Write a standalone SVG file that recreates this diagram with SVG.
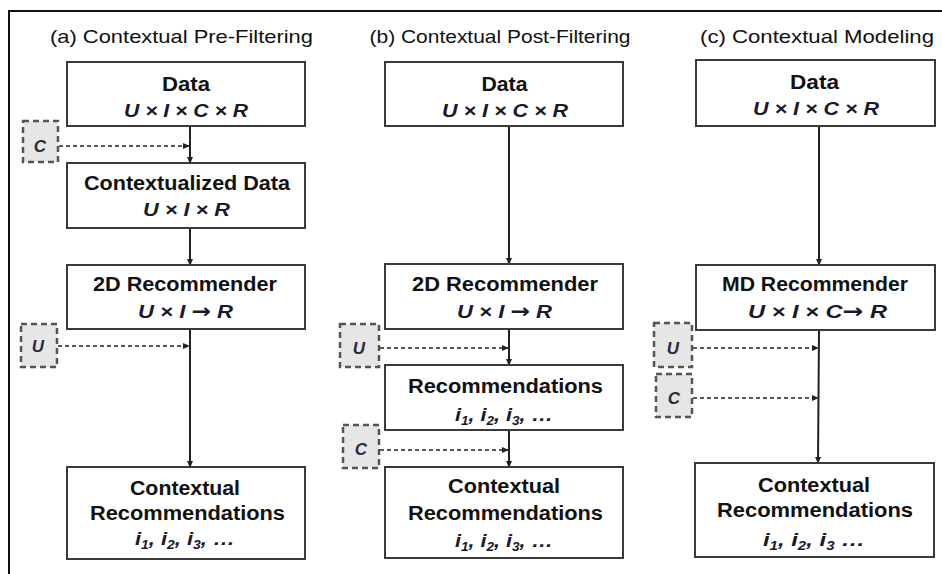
<svg xmlns="http://www.w3.org/2000/svg" width="942" height="574" viewBox="0 0 942 574">
  <style>
    .title { font-family: "Liberation Sans", Arial, sans-serif; font-size: 19px; fill: #111; text-anchor: middle; }
    .lbl { font-family: "Liberation Sans", Arial, sans-serif; font-size: 20px; font-weight: bold; fill: #111; text-anchor: middle; }
    .math { font-family: "Liberation Sans", Arial, sans-serif; font-size: 19px; font-style: italic; font-weight: bold; fill: #1a1a2e; text-anchor: middle; }
    .arrowglyph { font-family: "DejaVu Sans", sans-serif; font-style: normal; font-weight: bold; font-size: 20px; }
    .sub { font-size: 12px; }
    .box { fill: #fff; stroke: #3a3a3a; stroke-width: 2; }
    .ctx { fill: #e6e6e6; stroke: #555; stroke-width: 2.5; stroke-dasharray: 6 4; }
    .ctxt { font-family: "Liberation Sans", Arial, sans-serif; font-size: 17px; font-style: italic; font-weight: bold; fill: #2a2a40; text-anchor: middle; }
    .flow { stroke: #222; stroke-width: 2; fill: none; marker-end: url(#arr); }
    .dash { stroke: #222; stroke-width: 1.6; fill: none; stroke-dasharray: 4 3; marker-end: url(#arr); }
  </style>
  <defs>
    <marker id="arr" viewBox="0 0 8 8" refX="7" refY="4" markerWidth="7" markerHeight="7" markerUnits="userSpaceOnUse" orient="auto">
      <path d="M0,0.5 L8,4 L0,7.5 Z" fill="#222"/>
    </marker>
  </defs>

  <rect width="942" height="574" fill="#fff"/>
  <!-- frame (top and left edges) -->
  <path d="M9,574 V11 H942" fill="none" stroke="#111" stroke-width="2"/>

  <!-- column headings -->
  <text class="title" x="181.5" y="43" textLength="263" lengthAdjust="spacingAndGlyphs">(a) Contextual Pre-Filtering</text>
  <text class="title" x="500" y="43" textLength="261" lengthAdjust="spacingAndGlyphs">(b) Contextual Post-Filtering</text>
  <text class="title" x="817" y="43" textLength="234" lengthAdjust="spacingAndGlyphs">(c) Contextual Modeling</text>

  <!-- connectors -->
  <g id="connectors">
    <line class="flow" x1="190" y1="126" x2="190" y2="163"/>
    <line class="flow" x1="190" y1="228" x2="190" y2="265"/>
    <line class="flow" x1="190" y1="329" x2="190" y2="467"/>
    <line class="dash" x1="59" y1="146" x2="189" y2="146"/>
    <line class="dash" x1="58" y1="346" x2="189" y2="346"/>

    <line class="flow" x1="509" y1="126" x2="509" y2="264"/>
    <line class="flow" x1="509" y1="329" x2="509" y2="365"/>
    <line class="flow" x1="509" y1="430" x2="509" y2="467"/>
    <line class="dash" x1="380" y1="348" x2="508" y2="348"/>
    <line class="dash" x1="380" y1="450" x2="508" y2="450"/>

    <line class="flow" x1="819" y1="126" x2="819" y2="265"/>
    <line class="flow" x1="819" y1="330" x2="818" y2="463"/>
    <line class="dash" x1="693" y1="348" x2="818" y2="348"/>
    <line class="dash" x1="693" y1="398" x2="818" y2="398"/>
  </g>

  <!-- (a) pre-filtering -->
  <g id="a-data">
    <rect class="box" x="67" y="62" width="238" height="64"/>
    <text class="lbl" x="186" y="91" textLength="48" lengthAdjust="spacingAndGlyphs">Data</text>
    <text class="math" x="186" y="117" textLength="124" lengthAdjust="spacingAndGlyphs">U × I × C × R</text>
  </g>
  <g id="a-ctx">
    <rect class="ctx" x="23" y="121" width="35" height="41"/>
    <text class="ctxt" x="40" y="152">C</text>
  </g>
  <g id="a-ctxdata">
    <rect class="box" x="67" y="163" width="238" height="65"/>
    <text class="lbl" x="187" y="190" textLength="206" lengthAdjust="spacingAndGlyphs">Contextualized Data</text>
    <text class="math" x="186.5" y="216" textLength="87" lengthAdjust="spacingAndGlyphs">U × I × R</text>
  </g>
  <g id="a-rec2d">
    <rect class="box" x="67" y="265" width="238" height="64"/>
    <text class="lbl" x="185" y="291" textLength="184" lengthAdjust="spacingAndGlyphs">2D Recommender</text>
    <text class="math" x="185.5" y="318" textLength="95" lengthAdjust="spacingAndGlyphs">U × I <tspan class="arrowglyph">→</tspan> R</text>
  </g>
  <g id="a-user">
    <rect class="ctx" x="21" y="324" width="36" height="43"/>
    <text class="ctxt" x="38" y="352">U</text>
  </g>
  <g id="a-result">
    <rect class="box" x="67" y="467" width="238" height="92"/>
    <text class="lbl" x="185" y="495" textLength="110" lengthAdjust="spacingAndGlyphs">Contextual</text>
    <text class="lbl" x="187.5" y="520" textLength="195" lengthAdjust="spacingAndGlyphs">Recommendations</text>
    <text class="math" x="185" y="545" textLength="100" lengthAdjust="spacingAndGlyphs">i<tspan class="sub" dy="4">1</tspan><tspan dy="-4">, i</tspan><tspan class="sub" dy="4">2</tspan><tspan dy="-4">, i</tspan><tspan class="sub" dy="4">3</tspan><tspan dy="-4">, …</tspan></text>
  </g>

  <!-- (b) post-filtering -->
  <g id="b-data">
    <rect class="box" x="385" y="62" width="238" height="64"/>
    <text class="lbl" x="504.5" y="91" textLength="46" lengthAdjust="spacingAndGlyphs">Data</text>
    <text class="math" x="505" y="117" textLength="126" lengthAdjust="spacingAndGlyphs">U × I × C × R</text>
  </g>
  <g id="b-rec2d">
    <rect class="box" x="385" y="264" width="238" height="65"/>
    <text class="lbl" x="505" y="291" textLength="186" lengthAdjust="spacingAndGlyphs">2D Recommender</text>
    <text class="math" x="504.5" y="318" textLength="95" lengthAdjust="spacingAndGlyphs">U × I <tspan class="arrowglyph">→</tspan> R</text>
  </g>
  <g id="b-user">
    <rect class="ctx" x="340" y="324" width="39" height="43"/>
    <text class="ctxt" x="359" y="354">U</text>
  </g>
  <g id="b-recs">
    <rect class="box" x="385" y="365" width="238" height="65"/>
    <text class="lbl" x="505.5" y="393" textLength="195" lengthAdjust="spacingAndGlyphs">Recommendations</text>
    <text class="math" x="504" y="421" textLength="98" lengthAdjust="spacingAndGlyphs">i<tspan class="sub" dy="4">1</tspan><tspan dy="-4">, i</tspan><tspan class="sub" dy="4">2</tspan><tspan dy="-4">, i</tspan><tspan class="sub" dy="4">3</tspan><tspan dy="-4">, …</tspan></text>
  </g>
  <g id="b-ctx">
    <rect class="ctx" x="343" y="425" width="36" height="43"/>
    <text class="ctxt" x="361" y="455">C</text>
  </g>
  <g id="b-result">
    <rect class="box" x="385" y="467" width="238" height="91"/>
    <text class="lbl" x="504" y="493" textLength="112" lengthAdjust="spacingAndGlyphs">Contextual</text>
    <text class="lbl" x="505.5" y="520" textLength="195" lengthAdjust="spacingAndGlyphs">Recommendations</text>
    <text class="math" x="504" y="547" textLength="98" lengthAdjust="spacingAndGlyphs">i<tspan class="sub" dy="4">1</tspan><tspan dy="-4">, i</tspan><tspan class="sub" dy="4">2</tspan><tspan dy="-4">, i</tspan><tspan class="sub" dy="4">3</tspan><tspan dy="-4">, …</tspan></text>
  </g>

  <!-- (c) contextual modeling -->
  <g id="c-data">
    <rect class="box" x="696" y="60" width="239" height="66"/>
    <text class="lbl" x="814.5" y="89" textLength="49" lengthAdjust="spacingAndGlyphs">Data</text>
    <text class="math" x="816" y="115" textLength="126" lengthAdjust="spacingAndGlyphs">U × I × C × R</text>
  </g>
  <g id="c-recmd">
    <rect class="box" x="696" y="265" width="239" height="65"/>
    <text class="lbl" x="815" y="291" textLength="186" lengthAdjust="spacingAndGlyphs">MD Recommender</text>
    <text class="math" x="817.5" y="318" textLength="139" lengthAdjust="spacingAndGlyphs">U × I × C<tspan class="arrowglyph">→</tspan> R</text>
  </g>
  <g id="c-user">
    <rect class="ctx" x="654" y="323" width="38" height="44"/>
    <text class="ctxt" x="673" y="354">U</text>
  </g>
  <g id="c-ctx">
    <rect class="ctx" x="656" y="374" width="36" height="43"/>
    <text class="ctxt" x="674" y="404">C</text>
  </g>
  <g id="c-result">
    <rect class="box" x="695" y="463" width="239" height="94"/>
    <text class="lbl" x="814" y="492" textLength="112" lengthAdjust="spacingAndGlyphs">Contextual</text>
    <text class="lbl" x="815" y="517" textLength="196" lengthAdjust="spacingAndGlyphs">Recommendations</text>
    <text class="math" x="814" y="546" textLength="102" lengthAdjust="spacingAndGlyphs">i<tspan class="sub" dy="4">1</tspan><tspan dy="-4">, i</tspan><tspan class="sub" dy="4">2</tspan><tspan dy="-4">, i</tspan><tspan class="sub" dy="4">3</tspan><tspan dy="-4"> …</tspan></text>
  </g>
</svg>
